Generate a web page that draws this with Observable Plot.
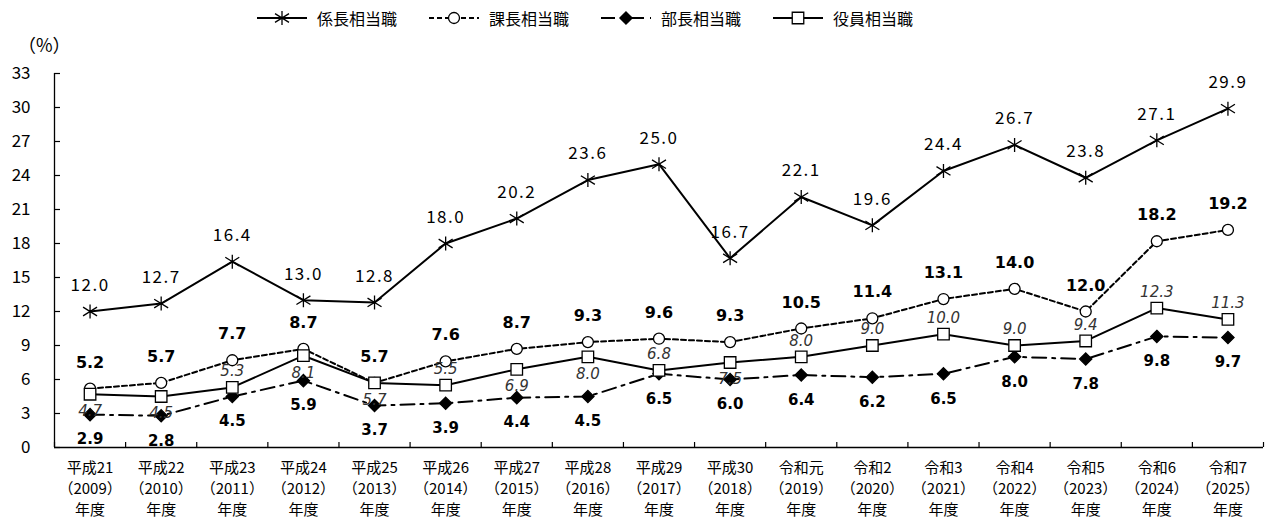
<!DOCTYPE html>
<html><head><meta charset="utf-8">
<script src="https://cdn.jsdelivr.net/npm/d3@7"></script>
<script src="https://cdn.jsdelivr.net/npm/@observablehq/plot@0.6"></script>
<style>
body{margin:0;background:#fff;font-family:'Noto Sans CJK JP',sans-serif;color:#000;}
#wrap{position:relative;width:1266px;height:522px;overflow:hidden;}
#legend{position:absolute;left:257px;top:0;height:36px;display:flex;align-items:center;gap:32px;font-size:16px;z-index:2;}
.item{display:flex;align-items:center;}
.item span{margin-left:10px;}
#unit{position:absolute;left:18px;top:32px;font-size:18px;line-height:24px;z-index:2;}
#chart{position:absolute;left:0;top:36px;z-index:1;}
.kakari text{letter-spacing:1.5px;}
</style></head><body>
<div id="wrap"><div id="legend"></div><div id="unit">（%）</div><div id="chart"></div></div>
<script>
// ---- data ----
const eras = ["平成21","平成22","平成23","平成24","平成25","平成26","平成27","平成28","平成29","平成30","令和元","令和2","令和3","令和4","令和5","令和6","令和7"];
const years = [2009,2010,2011,2012,2013,2014,2015,2016,2017,2018,2019,2020,2021,2022,2023,2024,2025];
const seriesNames = ["係長相当職","課長相当職","部長相当職","役員相当職"];
const kakari = [12.0,12.7,16.4,13.0,12.8,18.0,20.2,23.6,25.0,16.7,22.1,19.6,24.4,26.7,23.8,27.1,29.9];
const kacho  = [5.2,5.7,7.7,8.7,5.7,7.6,8.7,9.3,9.6,9.3,10.5,11.4,13.1,14.0,12.0,18.2,19.2];
const bucho  = [2.9,2.8,4.5,5.9,3.7,3.9,4.4,4.5,6.5,6.0,6.4,6.2,6.5,8.0,7.8,9.8,9.7];
const yakuin = [4.7,4.5,5.3,8.1,5.7,5.5,6.9,8.0,6.8,7.5,8.0,9.0,10.0,9.0,9.4,12.3,11.3];
const yTicks = [0,3,6,9,12,15,18,21,24,27,30,33];

// ---- build ----
const rows = eras.map((e,i)=>({i, kakari:kakari[i], kacho:kacho[i], bucho:bucho[i], yakuin:yakuin[i],
  yakuinBelow: kacho[i]-yakuin[i] < 2}));
const labelOf = i => `${eras[i]}\n（${years[i]}）\n年度`;
const fmt = d3.format(".1f");

const star = {draw(ctx, size){
  const r = Math.sqrt(size/Math.PI);
  ctx.moveTo(0,-r); ctx.lineTo(0,r);
  ctx.moveTo(-r,-r*0.62); ctx.lineTo(r,r*0.62);
  ctx.moveTo(-r,r*0.62); ctx.lineTo(r,-r*0.62);
}};

const styles = [
  {key:"kakari", dash:null, symbol:star, r:7, fill:"none"},
  {key:"kacho", dash:"5,3", symbol:"circle", r:5.5, fill:"white"},
  {key:"bucho", dash:"14,6,3,6", symbol:"diamond2", r:5.5, fill:"black"},
  {key:"yakuin", dash:null, symbol:"square", r:6.5, fill:"white"}
];

const W = 1266, H = 486, mL = 54, mR = 3, mT = 37, mB = 75;
const frameW = W - mL - mR, frameH = H - mT - mB;
const bounds = d3.range(-0.5, eras.length, 1);
const font = "'Noto Sans CJK JP', sans-serif";

const marks = [
  Plot.axisY({ticks: yTicks, tickSize: 0, tickPadding: 24, fontSize: 17, fontFamily: font, label: null}),
  Plot.axisX({ticks: d3.range(eras.length), tickSize: 0, tickPadding: 11, tickFormat: labelOf, fontSize: 15, lineHeight: 1.4, fontFamily: font, label: null}),
  Plot.tickY(yTicks, {y: d => d, stroke: "black", strokeWidth: 1.2, insetRight: frameW - 6}),
  Plot.tickX(bounds, {x: d => d, stroke: "black", strokeWidth: 1.2, insetTop: frameH - 5}),
  Plot.ruleY([0], {stroke:"black", strokeWidth:1.3}),
  Plot.ruleX([-0.5], {stroke:"black", strokeWidth:1.3}),
];
for (const s of styles) {
  marks.push(Plot.line(rows, {x:"i", y:s.key, stroke:"black", strokeWidth:2, strokeDasharray:s.dash}));
}
for (const s of styles) {
  marks.push(Plot.dot(rows, {x:"i", y:s.key, symbol:s.symbol, r:s.r, stroke:"black", strokeWidth:1.3, fill:s.fill}));
}
marks.push(
  Plot.text(rows, {x:"i", y:"kakari", text:d=>fmt(d.kakari), dy:-26, fontSize:17, fontFamily:font, fill:"black", className:"kakari"}),
  Plot.text(rows, {x:"i", y:"kacho", text:d=>fmt(d.kacho), dy:-26, fontSize:16, fontWeight:"bold", fontFamily:"'DejaVu Sans', sans-serif", fill:"black"}),
  Plot.text(rows, {x:"i", y:"bucho", text:d=>fmt(d.bucho), dy:25, fontSize:15, fontWeight:"bold", fontFamily:"'DejaVu Sans', sans-serif", fill:"black"}),
  Plot.text(rows.filter(d=>!d.yakuinBelow), {x:"i", y:"yakuin", text:d=>fmt(d.yakuin), dy:-16, fontSize:15, fontStyle:"italic", fontFamily:"'DejaVu Sans', sans-serif", fill:"#333"}),
  Plot.text(rows.filter(d=>d.yakuinBelow), {x:"i", y:"yakuin", text:d=>fmt(d.yakuin), dy:17, fontSize:15, fontStyle:"italic", fontFamily:"'DejaVu Sans', sans-serif", fill:"#333"})
);

const chart = Plot.plot({
  width: W, height: H,
  marginLeft: mL, marginRight: mR, marginTop: mT, marginBottom: mB,
  style: {fontFamily: font, fontSize: "16px", color: "black", background: "transparent"},
  x: {type: "linear", domain: [-0.5, eras.length - 0.5], label: null},
  y: {domain: [0, 33], label: null},
  marks
});
document.getElementById("chart").append(chart);

// ---- legend ----
const legend = document.getElementById("legend");
styles.forEach((s, k) => {
  const item = document.createElement("div"); item.className = "item";
  const svg = d3.create("svg").attr("width", 50).attr("height", 16);
  svg.append("line").attr("x1",0).attr("x2",50).attr("y1",8).attr("y2",8)
    .attr("stroke","black").attr("stroke-width",2).attr("stroke-dasharray", s.dash);
  const sym = typeof s.symbol === "string" ? {circle:d3.symbolCircle, diamond2:d3.symbolDiamond2, square:d3.symbolSquare}[s.symbol] : s.symbol;
  svg.append("path").attr("transform","translate(25,8)")
    .attr("d", d3.symbol(sym, s.r*s.r*Math.PI)())
    .attr("fill", s.fill).attr("stroke","black").attr("stroke-width",1.3);
  item.append(svg.node());
  const sp = document.createElement("span"); sp.textContent = seriesNames[k];
  item.append(sp);
  legend.append(item);
});
</script>
</body></html>
